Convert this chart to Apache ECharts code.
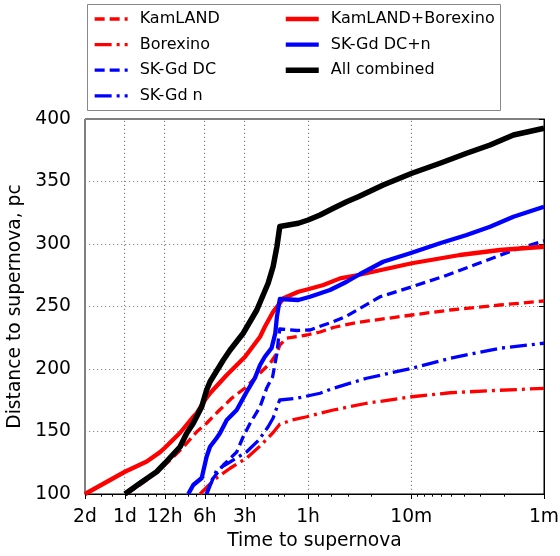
<!DOCTYPE html>
<html><head><meta charset="utf-8">
<script src="https://cdn.jsdelivr.net/npm/echarts@6/dist/echarts.min.js"></script>
<style>html,body{margin:0;padding:0;background:#fff}#c{width:560px;height:556px}</style>
</head><body><div id="c"></div>
<script>
// Time to supernova in minutes; distance in pc
const kamlandT = [1390,986,697,522,412,349,286,226,179,143,116,103,98,87,61.4,48.7,38.7,25.8,9.9,5.1,2.15,1];
const kamlandD = [100,111.2,124.6,137.6,150,156.6,166,176.6,184.8,195.2,204.6,212.6,219.2,224.6,227.2,229.6,233.2,237.2,243.2,247.2,251.2,254.4];

const borexinoT = [391,301,232,174,138,110,98,79,61.4,48.7,38.7,21.7,9.9,5.1,2.15,1];
const borexinoD = [100,112,120.6,128.8,138.4,149.2,155.8,159.2,161.8,164.6,167.2,172.6,177.8,181,183,184.5];

const skdcT = [352,319,261,207,185,164,138,123,111,103,100.5,98,73,58,48.7,38.7,30.7,24.3,17.2,9.9,5.74,3.21,1.70,1];
const skdcD = [100,111.2,123.2,133.6,145.8,156.6,169.8,184.8,193.8,212.6,223.2,232,230.8,231.2,234.2,237.8,242.4,248.6,257.8,265.8,274,284,295,302.5];

const sknT = [347,323,293,241,174,141,120,110,100.5,98,73,48.7,38.7,21.7,9.9,5.1,2.15,1];
const sknD = [100,108.6,119.2,124.6,133.8,143.2,153.8,160.8,172.6,175.2,176.6,180.6,184.6,192.6,200.6,208.6,216.6,220.6];

const kbT = [2880,1440,986,783,720,553,440,414,359,329,246,179,138,127,110,98,92,71,60,46,34.4,25.1,9.9,4.3,2.15,1];
const kbD = [100,117.8,126,133.5,137,149,161.8,164.6,175.2,180.6,195.2,209.8,225.8,233.8,245.8,252.6,256.6,261.8,263.8,267.2,272.5,275.2,284.6,291.2,295.2,297.8];

const skdcnT = [480,440,380,349,329,293,277,246,207,174,151,138,127,113,106,103,98,71,58,41,30.7,24.3,16.3,10.2,6.08,3.83,2.55,1.70,1];
const skdcnD = [100,107.2,112.8,129.8,137.8,144.8,148.6,159.2,167.2,181.8,192.8,203.2,209.8,216.8,228.6,241.8,256,255.2,257.8,263.2,269.8,276,285.8,292.6,300.6,307.2,313.8,321.8,329.8];

const allT = [1440,1109,830,720,553,493,440,380,349,329,261,232,185,146,120,110,103,98,71,60,48.7,38.7,30.7,25.1,16.3,9.9,6.08,3.83,2.55,1.70,1];
const allD = [100,108.6,117.8,124.6,137.8,148.6,156.6,169.8,183.2,189.8,207.2,215.2,228.6,247.2,268.6,282,298,314,316.6,319.2,323.2,328.6,333.8,337.8,347.2,356.6,364.6,372.6,379.2,387.2,392.6];

const tickMinutes = [2880,1440,720,360,180,60,10,1];
const tickLabels = ['2d','1d','12h','6h','3h','1h','10m','1m'];
const minorTickMinutes = [2160,1800,1200,960,840,600,480,420,300,240,150,120,100,90,50,40,30,20,9,8,7,6,5,4,3,2];
const gridMinutes = [1440,720,360,180,60,10];

const FONT = 'DejaVu Sans';
const AXFS = 18.7;
const lg = Math.log10;
const pts = (T, D) => T.map((t, i) => [lg(t), D[i]]);
const XMAX = lg(2880), XMIN = 0;

const DASH = [10, 5];
const DASHDOT = [17, 5, 3, 5];

function line(name, T, D, color, width, type) {
  return {
    name, type: 'line', data: pts(T, D), symbol: 'none', z: 3,
    lineStyle: { color, width, type, cap: 'butt', join: 'round' },
    itemStyle: { color }, animation: false, silent: true
  };
}

const series = [
  {
    type: 'line', data: [], z: 1, silent: true,
    markLine: {
      z: 1, silent: true, symbol: 'none', animation: false,
      label: { show: false },
      lineStyle: { color: '#888', width: 1.2, type: [1.2, 2.8] },
      data: gridMinutes.map(m => ({ xAxis: lg(m) }))
    }
  },
  line('KamLAND', kamlandT, kamlandD, '#ff0000', 3.3, DASH),
  line('Borexino', borexinoT, borexinoD, '#ff0000', 3.3, DASHDOT),
  line('SK-Gd DC', skdcT, skdcD, '#0000ff', 3.3, DASH),
  line('SK-Gd n', sknT, sknD, '#0000ff', 3.3, DASHDOT),
  line('KamLAND+Borexino', kbT, kbD, '#ff0000', 4.3, 'solid'),
  line('SK-Gd DC+n', skdcnT, skdcnD, '#0000ff', 4.3, 'solid'),
  line('All combined', allT, allD, '#000000', 5.5, 'solid')
];

const legendBase = {
  orient: 'vertical', top: 11, itemWidth: 33, itemHeight: 14, itemGap: 9.6,
  padding: 0, selectedMode: false,
  itemStyle: { opacity: 0 },
  textStyle: { fontSize: 16, fontFamily: FONT, color: '#000', padding: [0, 0, 0, 7] }
};
const lItem = (name, w) => ({ name, lineStyle: { width: w }, itemStyle: { opacity: 0 } });

const chart = echarts.init(document.getElementById('c'), null, { renderer: 'canvas' });
chart.setOption({
  animation: false,
  backgroundColor: '#fff',
  grid: { left: 85, right: 16, top: 119, bottom: 62, containLabel: false, outerBoundsMode: 'none',
          show: true, borderColor: '#000', borderWidth: 1, backgroundColor: 'transparent' },
  legend: [
    Object.assign({}, legendBase, { left: 93, data: [lItem('KamLAND', 3.3), lItem('Borexino', 3.3), lItem('SK-Gd DC', 3.3), lItem('SK-Gd n', 3.3)] }),
    Object.assign({}, legendBase, { left: 283, data: [lItem('KamLAND+Borexino', 4.3), lItem('SK-Gd DC+n', 4.3), lItem('All combined', 5.5)] })
  ],
  graphic: [{
    type: 'rect', left: 87, top: 4, z: -1,
    shape: { width: 413, height: 106 },
    style: { fill: '#fff', stroke: '#888', lineWidth: 1 }
  }],
  xAxis: [{
    type: 'value', min: XMIN, max: XMAX, inverse: true,
    name: 'Time to supernova', nameLocation: 'middle', nameGap: 37,
    nameTextStyle: { fontSize: AXFS, fontFamily: FONT, color: '#000' },
    axisLine: { show: true, lineStyle: { color: '#000', width: 1 } },
    axisTick: { show: true, length: 5, inside: false, lineStyle: { color: '#000' },
                customValues: tickMinutes.map(lg) },
    axisLabel: {
      customValues: tickMinutes.map(lg), margin: 14,
      fontSize: AXFS, fontFamily: FONT, color: '#000',
      formatter: v => { const i = tickMinutes.findIndex(m => Math.abs(lg(m) - v) < 1e-6); return i >= 0 ? tickLabels[i] : ''; }
    },
    splitLine: { show: false }
  }, {
    type: 'value', min: XMIN, max: XMAX, inverse: true, position: 'bottom',
    axisLine: { show: false },
    axisTick: { show: true, length: 2.7, inside: false, lineStyle: { color: '#000' },
                customValues: minorTickMinutes.map(lg) },
    axisLabel: { show: false, customValues: [] },
    splitLine: { show: false }
  }],
  yAxis: {
    type: 'value', min: 100, max: 400, interval: 50,
    name: 'Distance to supernova, pc', nameLocation: 'middle', nameGap: 56,
    nameTextStyle: { fontSize: AXFS, fontFamily: FONT, color: '#000' },
    axisLine: { show: true, lineStyle: { color: '#000', width: 1 } },
    axisTick: { show: true, length: 5, inside: false, lineStyle: { color: '#000' } },
    axisLabel: { fontSize: AXFS, fontFamily: FONT, color: '#000', margin: 14 },
    splitLine: { show: true, lineStyle: { color: '#888', width: 1.2, type: [1.2, 2.8] } }
  },
  series
});
</script></body></html>
